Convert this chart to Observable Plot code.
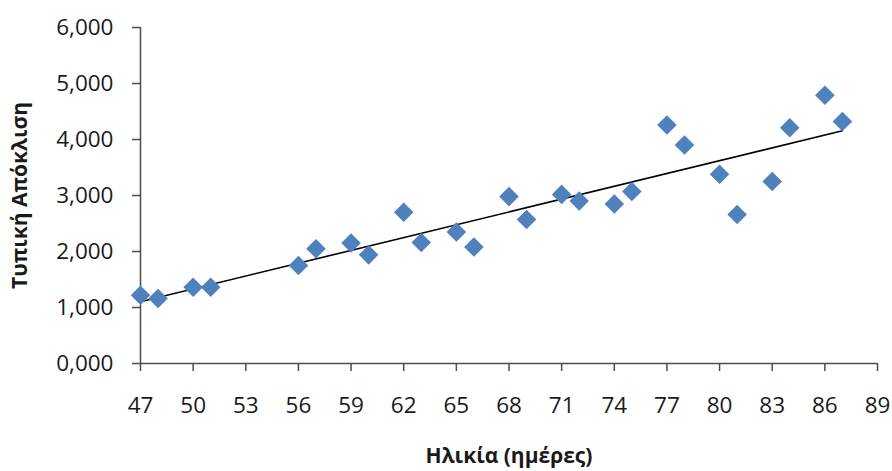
<!DOCTYPE html>
<html>
<head>
<meta charset="utf-8">
<script src="https://cdn.jsdelivr.net/npm/d3@7"></script>
<script src="https://cdn.jsdelivr.net/npm/@observablehq/plot@0.6"></script>
<style>
  html, body { margin: 0; padding: 0; background: #fff; }
  #chart svg { display: block; }
</style>
</head>
<body>
<div id="chart"></div>
<script>
// Age in days
const ages = [47, 48, 50, 51, 56, 57, 59, 60, 62, 63, 65, 66, 68, 69, 71, 72, 74, 75, 77, 78, 80, 81, 83, 84, 86, 87];
// Standard deviation
const stdDev = [1.22, 1.16, 1.36, 1.36, 1.75, 2.05, 2.15, 1.94, 2.70, 2.16, 2.35, 2.08, 2.98, 2.57, 3.02, 2.90, 2.85, 3.07, 4.26, 3.90, 3.38, 2.66, 3.25, 4.21, 4.79, 4.32];
const xTicks = [47, 50, 53, 56, 59, 62, 65, 68, 71, 74, 77, 80, 83, 86, 89];
const yTicks = [0, 1, 2, 3, 4, 5, 6];
const xTitle = "Ηλικία (ημέρες)";
const yTitle = "Τυπική Απόκλιση";

const data = ages.map((a, i) => ({age: a, sd: stdDev[i]}));
const fmtY = d => d.toFixed(3).replace(".", ",");
const axisColor = "#4d4d4d";
const textColor = "#1a1a1a";

const chart = Plot.plot({
  width: 892,
  height: 471,
  marginLeft: 140,
  marginRight: 15,
  marginTop: 27,
  marginBottom: 108,
  style: {fontFamily: "'Open Sans', sans-serif", fontSize: "22px", color: textColor, background: "#fff"},
  x: {domain: [47, 89]},
  y: {domain: [0, 6]},
  marks: [
    Plot.axisX({ticks: xTicks, tickSize: 8, tickPadding: 26, stroke: axisColor, strokeWidth: 1.5, fill: textColor, fontSize: 22.5, label: null}),
    Plot.axisY({ticks: yTicks, tickSize: 8, tickPadding: 19, stroke: axisColor, strokeWidth: 1.5, fill: textColor, fontSize: 22.5, tickFormat: fmtY, label: null}),
    Plot.ruleY([0], {stroke: axisColor, strokeWidth: 1.5}),
    Plot.ruleX([47], {stroke: axisColor, strokeWidth: 1.5}),
    Plot.linearRegressionY(data, {x: "age", y: "sd", ci: 0, stroke: "#000", strokeWidth: 1.6}),
    Plot.dot(data, {x: "age", y: "sd", symbol: "diamond2", r: 8.8, fill: "#4F81BD", stroke: "none"}),
    Plot.text([yTitle], {frameAnchor: "left", dx: -120, rotate: -90, textAnchor: "middle", lineAnchor: "middle", text: d => d, fontSize: 21, fontWeight: "bold", fill: textColor}),
    Plot.text([xTitle], {frameAnchor: "bottom", dy: 93, textAnchor: "middle", lineAnchor: "middle", text: d => d, fontSize: 21, fontWeight: "bold", fill: textColor})
  ]
});
document.getElementById("chart").appendChild(chart);
</script>
</body>
</html>
